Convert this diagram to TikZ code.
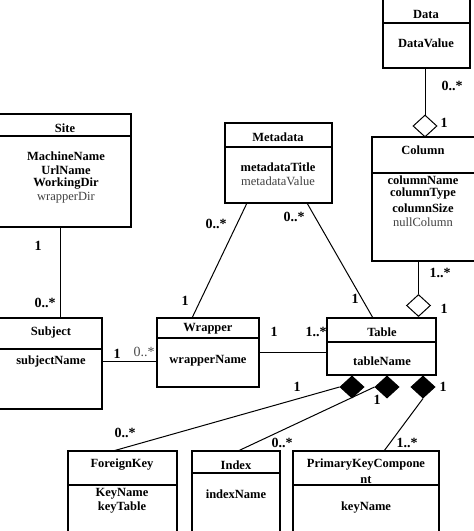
\documentclass[tikz,border=0pt]{standalone}
\usepackage{fontspec}
\setmainfont{Liberation Serif}
\usetikzlibrary{shapes.geometric}
\begin{document}
\begin{tikzpicture}[x=1pt,y=-1pt,
  box/.style={draw,line width=1.1pt,rectangle,inner sep=0pt,outer sep=0pt,anchor=north west},
  sepline/.style={line width=1.1pt},
  conn/.style={line width=1pt},
  txt/.style={font=\fontsize{12.5}{14}\selectfont\bfseries,inner sep=0pt},
  ntxt/.style={font=\fontsize{12.5}{14}\selectfont,text=black!75,inner sep=0pt},
  lab/.style={font=\fontsize{14}{16}\selectfont\bfseries,inner sep=0pt},
  nlab/.style={font=\fontsize{14}{16}\selectfont,text=black!70,inner sep=0pt},
  odia/.style={diamond,draw,line width=1pt,fill=white,inner sep=0pt,minimum width=24pt,minimum height=22pt},
  bdia/.style={diamond,draw,line width=1pt,fill=black,inner sep=0pt,minimum width=24pt,minimum height=22pt}]
\useasboundingbox (0,0) rectangle (474,531);
\clip (0,0) rectangle (474,531);
% ---------- Data ----------
\node[box,minimum width=87pt,minimum height=73pt] (data) at (383,-5) {};
\draw[sepline] (383,23) -- (470,23);
\node[txt] (dataT) at (426,14) {Data};
\node[txt] (dataA) at (426,43) {DataValue};
% ---------- Column ----------
\node[box,minimum width=103pt,minimum height=124pt] (column) at (372,137) {};
\draw[sepline] (372,173) -- (475,173);
\node[txt] (colT) at (423,150) {Column};
\node[txt] (colA1) at (423,180) {columnName};
\node[txt] (colA2) at (423,194) {columnType};
\node[txt] (colA3) at (423,208) {columnSize};
\node[ntxt] (colA4) at (423,222) {nullColumn};
% ---------- Site ----------
\node[box,minimum width=136pt,minimum height=113pt] (site) at (-5,114) {};
\draw[sepline] (-5,136) -- (131,136);
\node[txt] (siteT) at (65,128) {Site};
\node[txt] (siteA1) at (66,156) {MachineName};
\node[txt] (siteA2) at (66,170) {UrlName};
\node[txt] (siteA3) at (66,184) {WorkingDir};
\node[ntxt] (siteA4) at (66,198) {wrapperDir};
% ---------- Metadata ----------
\node[box,minimum width=107pt,minimum height=80pt] (meta) at (225,123) {};
\draw[sepline] (225,147) -- (332,147);
\node[txt] (metaT) at (278,137) {Metadata};
\node[txt] (metaA1) at (278,167) {metadataTitle};
\node[ntxt] (metaA2) at (278,181) {metadataValue};
% ---------- Subject ----------
\node[box,minimum width=107pt,minimum height=91pt] (subject) at (-5,318) {};
\draw[sepline] (-5,349) -- (102,349);
\node[txt] (subjT) at (51,332) {Subject};
\node[txt] (subjA) at (51,361) {subjectName};
% ---------- Wrapper ----------
\node[box,minimum width=102pt,minimum height=69pt] (wrapper) at (157,318) {};
\draw[sepline] (157,338) -- (259,338);
\node[txt] (wrapT) at (208,329) {Wrapper};
\node[txt] (wrapA) at (208,361) {wrapperName};
% ---------- Table ----------
\node[box,minimum width=109pt,minimum height=57pt] (table) at (327,318) {};
\draw[sepline] (327,342) -- (436,342);
\node[txt] (tabT) at (382,332) {Table};
\node[txt] (tabA) at (382,361) {tableName};
% ---------- ForeignKey ----------
\node[box,minimum width=109pt,minimum height=90pt] (fk) at (68,451) {};
\draw[sepline] (68,485) -- (177,485);
\node[txt] (fkT) at (122,465) {ForeignKey};
\node[txt] (fkA1) at (122,494) {KeyName};
\node[txt] (fkA2) at (122,508) {keyTable};
% ---------- Index ----------
\node[box,minimum width=88pt,minimum height=90pt] (index) at (192,451) {};
\draw[sepline] (192,473) -- (280,473);
\node[txt] (idxT) at (236,465) {Index};
\node[txt] (idxA) at (236,494) {indexName};
% ---------- PrimaryKeyComponent ----------
\node[box,minimum width=146pt,minimum height=90pt] (pkc) at (293,451) {};
\draw[sepline] (293,485) -- (439,485);
\node[txt] (pkcT1) at (366,465) {PrimaryKeyCompone};
\node[txt] (pkcT2) at (366,480) {nt};
\node[txt] (pkcA) at (366,508) {keyName};
% ---------- diamonds ----------
\node[odia] (d1) at (425,126) {};
\node[odia] (d2) at (418.5,305.5) {};
\node[bdia] (b1) at (352,387) {};
\node[bdia] (b2) at (387,387) {};
\node[bdia] (b3) at (423,387) {};
% ---------- connectors ----------
\draw[conn] (d1.north) -- (d1.north |- data.south);
\draw[conn] (d2.north) -- (d2.north |- column.south);
\draw[conn] ([xshift=-3pt]site.south) -- ([xshift=11.5pt]subject.north);
\draw[conn] (subject.east |- subjA) -- (wrapper.west |- subjA);
\draw[conn] (wrapper.east) -- (wrapper.east -| table.west);
\draw[conn] ([xshift=22pt]meta.south west) -- ([xshift=35pt]wrapper.north west);
\draw[conn] ([xshift=-25pt]meta.south east) -- ([xshift=46pt]table.north west);
\draw[conn] (b1.west) -- ([xshift=45pt]fk.north west);
\draw[conn] (b2.west) -- ([xshift=46pt]index.north west);
\draw[conn] (b3.south) -- ([xshift=91pt]pkc.north west);
% ---------- multiplicities ----------
\node[lab] (m1) at (452,86) {0..*};
\node[lab] (m2) at (444,123) {1};
\node[lab] (m3) at (440,273) {1..*};
\node[lab] (m4) at (444,309) {1};
\node[lab] (m5) at (38,246) {1};
\node[lab] (m6) at (45,303) {0..*};
\node[lab] (m7) at (117,354) {1};
\node[nlab] (m8) at (144,352) {0..*};
\node[lab] (m9) at (216,224) {0..*};
\node[lab] (m10) at (185,301) {1};
\node[lab] (m11) at (294,217) {0..*};
\node[lab] (m12) at (355,299) {1};
\node[lab] (m13) at (274,332) {1};
\node[lab] (m14) at (316,332) {1..*};
\node[lab] (m15) at (297,387) {1};
\node[lab] (m16) at (377,400) {1};
\node[lab] (m17) at (443,387) {1};
\node[lab] (m18) at (125,433) {0..*};
\node[lab] (m19) at (282,443) {0..*};
\node[lab] (m20) at (407,443) {1..*};
\end{tikzpicture}
\end{document}
